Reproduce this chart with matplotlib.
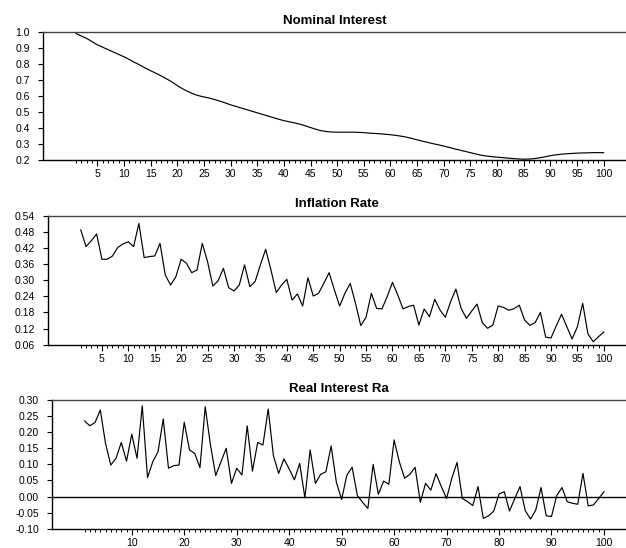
import matplotlib
matplotlib.use("Agg")
import matplotlib.pyplot as plt
from matplotlib.ticker import MultipleLocator, FormatStrFormatter

plt.rcParams['font.family'] = ['Liberation Sans', 'DejaVu Sans']

periods = list(range(1, 101))

nominal = [0.99, 0.975, 0.96, 0.94, 0.92, 0.905, 0.89, 0.875, 0.86, 0.845,
           0.828, 0.81, 0.793, 0.775, 0.758, 0.742, 0.725, 0.707, 0.688, 0.665,
           0.645, 0.628, 0.613, 0.602, 0.594, 0.587, 0.578, 0.568, 0.557, 0.545,
           0.535, 0.525, 0.515, 0.505, 0.495, 0.485, 0.475, 0.465, 0.455, 0.446,
           0.439, 0.432, 0.424, 0.414, 0.403, 0.392, 0.383, 0.378, 0.375, 0.374,
           0.374, 0.374, 0.374, 0.373, 0.371, 0.368, 0.366, 0.364, 0.361, 0.358,
           0.354, 0.349, 0.343, 0.335, 0.326, 0.318, 0.31, 0.302, 0.295, 0.287,
           0.279, 0.27, 0.262, 0.254, 0.246, 0.238, 0.23, 0.225, 0.221, 0.218,
           0.215, 0.212, 0.209, 0.207, 0.205, 0.206, 0.209, 0.214, 0.22, 0.227,
           0.232, 0.236, 0.239, 0.241, 0.243, 0.244, 0.245, 0.246, 0.246, 0.246]

inflation = [0.487, 0.425, 0.447, 0.472, 0.378, 0.378, 0.39, 0.422, 0.435, 0.443,
             0.425, 0.511, 0.384, 0.388, 0.39, 0.437, 0.319, 0.282, 0.313, 0.378,
             0.363, 0.328, 0.338, 0.437, 0.369, 0.278, 0.298, 0.344, 0.272, 0.26,
             0.282, 0.357, 0.276, 0.295, 0.357, 0.415, 0.338, 0.254, 0.282, 0.303,
             0.226, 0.249, 0.204, 0.309, 0.241, 0.251, 0.288, 0.328, 0.264, 0.204,
             0.251, 0.288, 0.214, 0.131, 0.162, 0.251, 0.195, 0.193, 0.239, 0.292,
             0.245, 0.193, 0.202, 0.207, 0.133, 0.193, 0.164, 0.229, 0.189, 0.162,
             0.22, 0.267, 0.195, 0.158, 0.185, 0.211, 0.142, 0.121, 0.133, 0.204,
             0.199, 0.188, 0.194, 0.207, 0.152, 0.132, 0.142, 0.18, 0.088, 0.085,
             0.13, 0.173, 0.127, 0.081, 0.127, 0.214, 0.1, 0.071, 0.09, 0.107]

real = [0.235, 0.22, 0.23, 0.269, 0.165, 0.098, 0.119, 0.168, 0.11, 0.194,
        0.119, 0.282, 0.059, 0.108, 0.139, 0.241, 0.088, 0.096, 0.098, 0.231,
        0.145, 0.134, 0.09, 0.279, 0.16, 0.065, 0.108, 0.15, 0.041, 0.088,
        0.067, 0.22, 0.079, 0.168, 0.16, 0.272, 0.127, 0.072, 0.117, 0.086,
        0.052, 0.103, -0.004, 0.145, 0.041, 0.069, 0.077, 0.157, 0.044, -0.009,
        0.067, 0.091, 0.003, -0.018, -0.037, 0.1, 0.007, 0.048, 0.038, 0.176,
        0.108, 0.057, 0.069, 0.091, -0.018, 0.041, 0.02, 0.071, 0.031, -0.006,
        0.057, 0.106, -0.006, -0.016, -0.028, 0.031, -0.068, -0.06, -0.045, 0.008,
        0.015, -0.045, -0.006, 0.031, -0.044, -0.07, -0.042, 0.028, -0.06, -0.062,
        0.003, 0.028, -0.016, -0.021, -0.024, 0.072, -0.029, -0.026, -0.006, 0.015]

titles = ["Nominal Interest", "Inflation Rate", "Real Interest Ra"]
series = [nominal, inflation, real]
ylims = [(0.2, 1.0), (0.06, 0.54), (-0.10, 0.30)]
ysteps = [0.1, 0.06, 0.05]
yfmts = ['%.1f', '%.2f', '%.2f']
xsteps = [5, 5, 10]

fig = plt.figure(figsize=(6.26, 5.48), dpi=100)
rects = [[0.0687, 0.708, 0.9313, 0.2336],
         [0.0767, 0.371, 0.9233, 0.2354],
         [0.0831, 0.0352, 0.9169, 0.2348]]

for k in range(3):
    ax = fig.add_axes(rects[k])
    ax.plot(periods, series[k], color='black', lw=0.85)
    ax.set_xlim(-5.2, 104.2)
    ax.set_ylim(*ylims[k])
    ax.yaxis.set_major_locator(MultipleLocator(ysteps[k]))
    ax.yaxis.set_major_formatter(FormatStrFormatter(yfmts[k]))
    ax.set_xticks(list(range(xsteps[k], 101, xsteps[k])))
    ax.set_xticks([p for p in periods if p % xsteps[k] != 0], minor=True)
    ax.tick_params(axis='x', which='major', length=4.5, width=0.8, labelsize=7.5, pad=2)
    ax.tick_params(axis='x', which='minor', length=2.5, width=0.7)
    ax.tick_params(axis='y', length=3.5, width=0.8, labelsize=7.5, pad=6)
    ax.spines['right'].set_visible(False)
    for s in ['top', 'left', 'bottom']:
        ax.spines[s].set_linewidth(1.0)
    ax.spines['top'].set_color('#444444')
    if k == 2:
        ax.axhline(0, color='black', lw=1.0)
    ax.set_title(titles[k], fontsize=9.5, fontweight='bold', pad=6)

fig.savefig("out.png", dpi=100)
